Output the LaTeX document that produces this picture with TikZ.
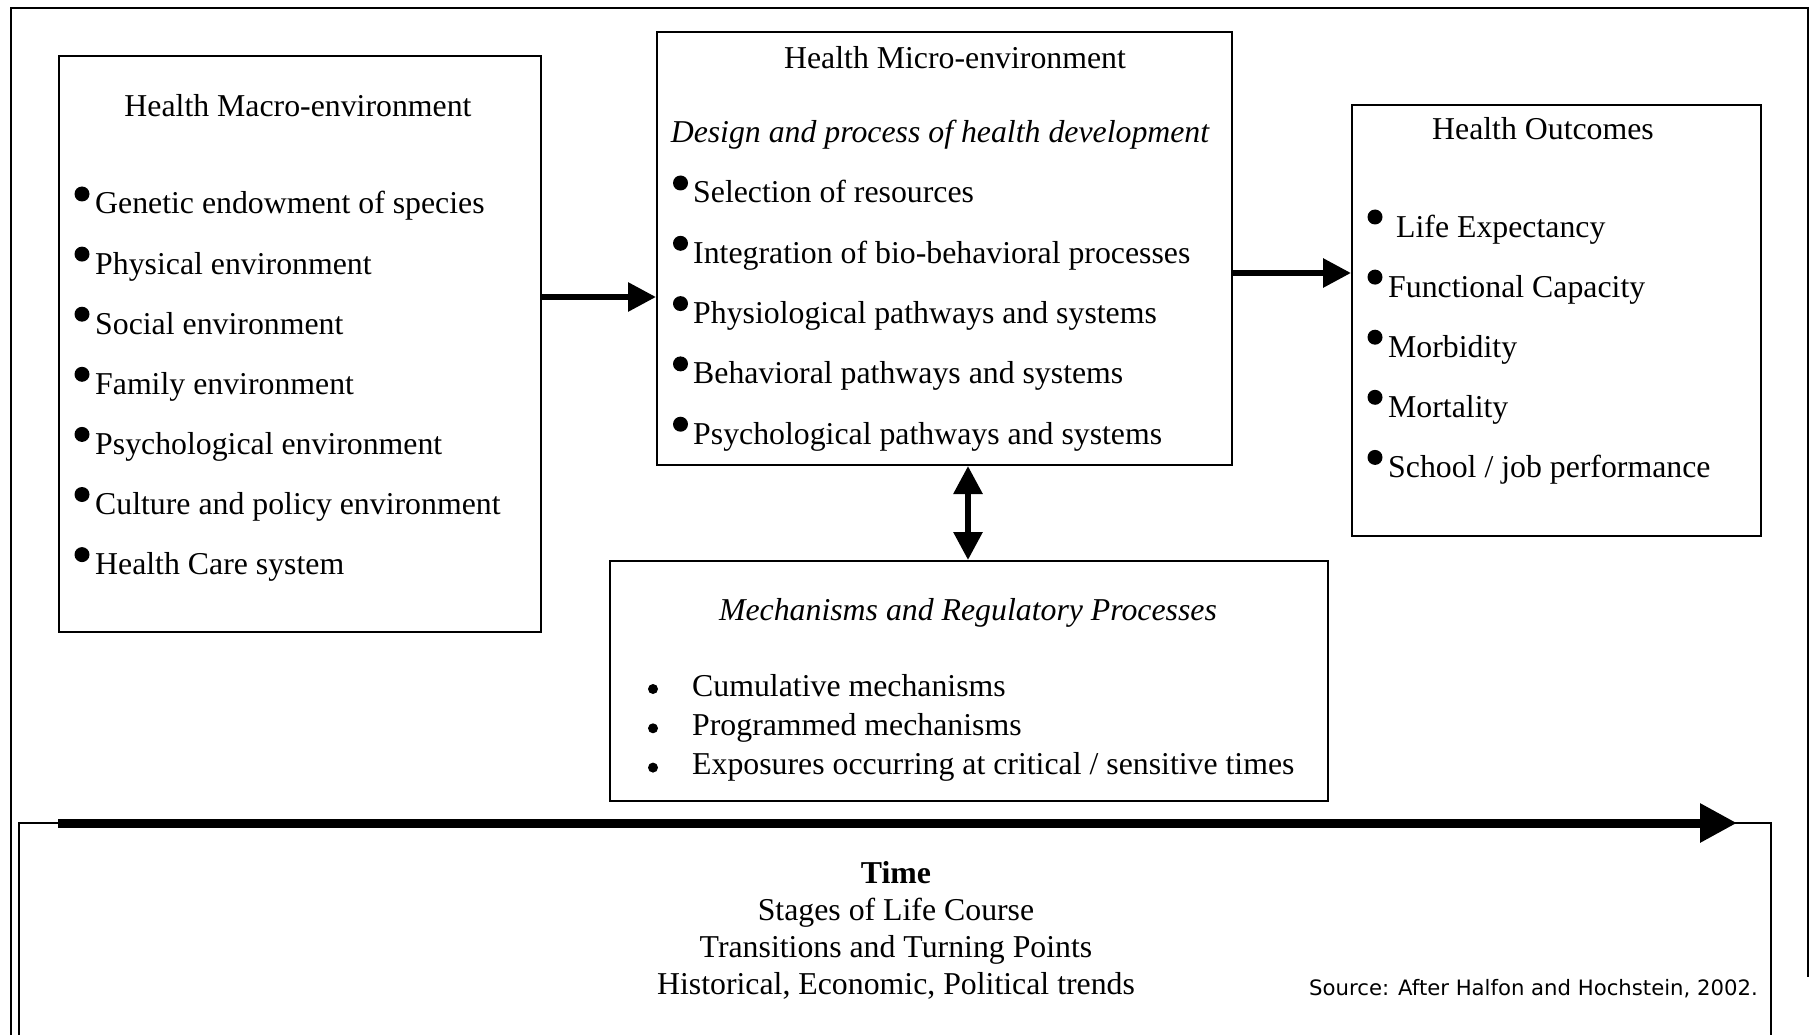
\documentclass[tikz,border=0pt]{standalone}
\usepackage{fontspec}
\setmainfont{Liberation Serif}
\newfontfamily\srcfont{DejaVu Sans}
\usetikzlibrary{arrows.meta}
\begin{document}
\begin{tikzpicture}[x=1pt,y=-1pt,
  frame/.style={draw, line width=2pt},
  box/.style={draw, line width=2pt, inner sep=0pt, anchor=north west},
  txt/.style={inner sep=0pt, font=\fontsize{31.8}{38}\selectfont, text height=22pt, text depth=8pt},
  item/.style={txt, anchor=west},
  arr/.style={line width=6pt, -{Triangle[length=28pt,width=28pt]}},
  darr/.style={line width=6pt, {Triangle[length=28pt,width=28pt]}-{Triangle[length=28pt,width=28pt]}},
  tarr/.style={line width=9pt, -{Triangle[length=37pt,width=37pt]}},
]
\useasboundingbox (0,0) rectangle (1812,1035);
\fill[white] (0,0) rectangle (1812,1035);

% outer frame (open at bottom)
\draw[frame] (11,1035) -- (11,8) -- (1808,8) -- (1808,977);

% boxes
\node[box, minimum width=482pt, minimum height=576pt] (macro) at (58,55) {};
\node[box, minimum width=575pt, minimum height=433pt] (micro) at (656,31) {};
\node[box, minimum width=409pt, minimum height=431pt] (outc) at (1351,104) {};
\node[box, minimum width=718pt, minimum height=240pt] (mech) at (609,560) {};

% bottom time box (open at bottom)
\draw[frame] (19,1035) -- (19,823) -- (1771,823) -- (1771,1035);

% macro box text
\node[txt] (mact) at (298,110) {Health Macro-environment};
\foreach \t [count=\i] in {Genetic endowment of species, Physical environment, Social environment, Family environment, Psychological environment, Culture and policy environment, Health Care system}{
  \node[item] (mac\i) at (95,{207+60.1*(\i-1)}) {\t};
  \fill ([shift={(-13,-13)}]mac\i.west) circle (7.5pt);
}

% micro box text
\node[txt] (mict) at (955,62) {Health Micro-environment};
\node[txt] (mics) at (940,136) {\itshape Design and process of health development};
\foreach \t [count=\i] in {Selection of resources, Integration of bio-behavioral processes, Physiological pathways and systems, Behavioral pathways and systems, Psychological pathways and systems}{
  \node[item] (mic\i) at (693,{196+60.3*(\i-1)}) {\t};
  \fill ([shift={(-12.5,-13)}]mic\i.west) circle (7.5pt);
}

% outcomes box text
\node[txt] (outt) at (1543,133) {Health Outcomes};
\node[item] (out1) at (1396,230) {Life Expectancy};
\fill ([shift={(-21,-13)}]out1.west) circle (7.5pt);
\foreach \t [count=\i from 2] in {Functional Capacity, Morbidity, Mortality, School / job performance}{
  \node[item] (out\i) at (1388,{230+60.1*(\i-1)}) {\t};
  \fill ([shift={(-13,-13)}]out\i.west) circle (7.5pt);
}

% mechanisms box text
\node[txt] (mecht) at (968,613) {\itshape Mechanisms and Regulatory Processes};
\foreach \t [count=\i] in {Cumulative mechanisms, Programmed mechanisms, Exposures occurring at critical / sensitive times}{
  \node[item] (mec\i) at (692,{689+39.3*(\i-1)}) {\t};
  \fill ([shift={(-39,0)}]mec\i.west) circle (5pt);
}

% time box text
\node[txt] (time) at (896,876) {\bfseries Time};
\node[txt] (tl1) at (896,913) {Stages of Life Course};
\node[txt] (tl2) at (896,950) {Transitions and Turning Points};
\node[txt] (tl3) at (896,987) {Historical, Economic, Political trends};
\node[inner sep=0pt, anchor=west, font=\srcfont\fontsize{21.2}{25}\selectfont] (src) at (1309,989) {Source: After Halfon and Hochstein, 2002.};

% connectors
\coordinate (a1) at (0,297);
\coordinate (a2) at (0,273);
\coordinate (a3) at (968,0);
\coordinate (ts) at (58,823);
\coordinate (te) at (1737,823);
\draw[arr] (a1 -| macro.east) -- (a1 -| micro.west);
\draw[arr] (a2 -| micro.east) -- (a2 -| outc.west);
\draw[darr] (a3 |- micro.south) -- (a3 |- mech.north);
\draw[tarr] (ts) -- (te);
\end{tikzpicture}
\end{document}
